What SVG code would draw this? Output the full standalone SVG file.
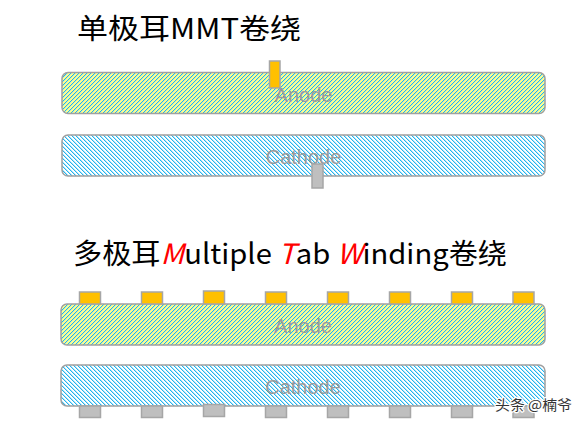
<svg xmlns="http://www.w3.org/2000/svg" width="585" height="426" viewBox="0 0 585 426">
  <defs>
    <pattern id="hatchA" patternUnits="userSpaceOnUse" width="4" height="4">
      <rect width="4" height="4" fill="#FFFF8A"/>
      <g shape-rendering="crispEdges">
        <g fill="#22B4EE">
          <rect x="3" y="0" width="1" height="1"/>
          <rect x="2" y="1" width="1" height="1"/>
          <rect x="1" y="2" width="1" height="1"/>
          <rect x="0" y="3" width="1" height="1"/>
        </g>
        <g fill="#C4ECC4">
          <rect x="0" y="0" width="1" height="1"/>
          <rect x="3" y="1" width="1" height="1"/>
          <rect x="2" y="2" width="1" height="1"/>
          <rect x="1" y="3" width="1" height="1"/>
        </g>
      </g>
    </pattern>
    <pattern id="hatchC" patternUnits="userSpaceOnUse" width="4" height="4">
      <rect width="4" height="4" fill="#FFFFFF"/>
      <g shape-rendering="crispEdges">
        <g fill="#22B4EE">
          <rect x="0" y="0" width="1" height="1"/>
          <rect x="1" y="1" width="1" height="1"/>
          <rect x="2" y="2" width="1" height="1"/>
          <rect x="3" y="3" width="1" height="1"/>
        </g>
        <g fill="#B4E4F8">
          <rect x="1" y="0" width="1" height="1"/>
          <rect x="2" y="1" width="1" height="1"/>
          <rect x="3" y="2" width="1" height="1"/>
          <rect x="0" y="3" width="1" height="1"/>
        </g>
      </g>
    </pattern>
  </defs>
  <style>
    .title { font-family: "Noto Sans CJK SC", "Noto Sans", sans-serif; font-size: 28px; fill: #000; }
    .red { fill: #FF0000; font-style: italic; }
    .anode { fill: url(#hatchA); stroke: #A0A0A0; stroke-width: 1.5; }
    .cathode { fill: url(#hatchC); stroke: #A0A0A0; stroke-width: 1.5; }
    .lbl { font-family: "Liberation Sans", Arial, sans-serif; font-size: 20px; fill: #9A9A9A; text-anchor: middle; }
    .tabA { fill: #FFC000; stroke: #A6A6A6; stroke-width: 1.5; }
    .tabC { fill: #BFBFBF; stroke: #A6A6A6; stroke-width: 1.5; }
    .wm { font-family: "Noto Sans CJK SC", sans-serif; font-size: 14px; fill: #333333; stroke: #FFFFFF; stroke-width: 2.5; paint-order: stroke; stroke-linejoin: round; }
  </style>
  <rect width="585" height="426" fill="#FFFFFF"/>

  <text id="title1" class="title" x="77" y="39" textLength="224" lengthAdjust="spacingAndGlyphs">单极耳MMT卷绕</text>

  <g id="anode1">
    <rect class="anode" x="62" y="72.5" width="483" height="41" rx="6"/>
    <text class="lbl" x="303.5" y="102">Anode</text>
    <rect class="tabA" x="269.5" y="61" width="10.5" height="27"/>
  </g>
  <g id="cathode1">
    <rect class="cathode" x="62" y="135" width="483" height="41" rx="6"/>
    <text class="lbl" x="303.5" y="164">Cathode</text>
    <rect class="tabC" x="312" y="164" width="11" height="24"/>
  </g>

  <text id="title2" class="title" x="73" y="264" textLength="434" lengthAdjust="spacingAndGlyphs">多极耳<tspan class="red">M</tspan>ultiple <tspan class="red">T</tspan>ab <tspan class="red">W</tspan>inding卷绕</text>

  <g id="anode2">
    <rect class="anode" x="61" y="304" width="484" height="41" rx="6"/>
    <text class="lbl" x="303" y="333">Anode</text>
    <rect class="tabA" x="79.5" y="292" width="21" height="12"/>
    <rect class="tabA" x="141.5" y="292" width="21" height="12"/>
    <rect class="tabA" x="203.5" y="291" width="21" height="13"/>
    <rect class="tabA" x="265.5" y="292" width="21" height="12"/>
    <rect class="tabA" x="327.5" y="292" width="21" height="12"/>
    <rect class="tabA" x="389.5" y="292" width="21" height="12"/>
    <rect class="tabA" x="451.5" y="292" width="21" height="12"/>
    <rect class="tabA" x="513" y="292" width="21" height="12"/>
  </g>
  <g id="cathode2">
    <rect class="cathode" x="61" y="365" width="484" height="41" rx="6"/>
    <text class="lbl" x="303" y="394">Cathode</text>
    <rect class="tabC" x="79.5" y="406" width="21" height="11.5"/>
    <rect class="tabC" x="141.5" y="406" width="21" height="11.5"/>
    <rect class="tabC" x="203.5" y="404.5" width="21" height="12"/>
    <rect class="tabC" x="265.5" y="406" width="21" height="11.5"/>
    <rect class="tabC" x="327.5" y="406" width="21" height="11.5"/>
    <rect class="tabC" x="389.5" y="406" width="21" height="11.5"/>
    <rect class="tabC" x="451.5" y="406" width="21" height="11.5"/>
    <rect class="tabC" x="513" y="406" width="21" height="11.5"/>
  </g>
  <g id="connectors"/>

  <text id="watermark" class="wm" x="495" y="410" textLength="77" lengthAdjust="spacingAndGlyphs">头条 @楠爷</text>
</svg>
